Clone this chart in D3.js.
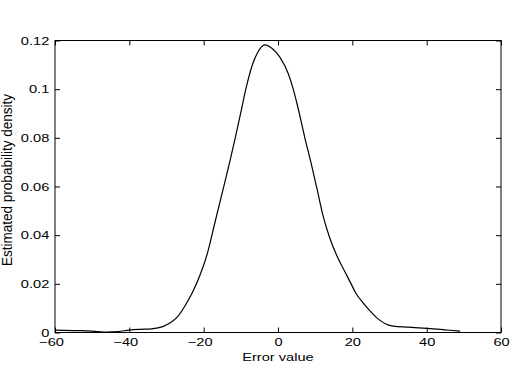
<!DOCTYPE html>
<html>
<head>
<meta charset="utf-8">
<script src="https://cdn.jsdelivr.net/npm/d3@7"></script>
<style>
  body { margin: 0; background: #fff; }
  text { font-family: "Liberation Sans", Arial, sans-serif; }
</style>
</head>
<body>
<div id="chart"></div>
<script>
// estimated density
const errorValues = [-60, -55, -50, -46, -43, -40, -37, -34, -31, -29, -27, -25, -23, -21, -19, -17, -15, -13, -11.5,
    -10, -8.5, -7, -5.5, -3.5, -1.5, 0.5, 2.8, 4, 5.2, 7.3, 9, 10.5, 12.2, 14, 16, 18, 19.5, 21, 23, 25, 27, 29, 31, 35, 40, 45, 49];
const densityValues = [0.0010, 0.0008, 0.0006, 0.0002, 0.0004, 0.0010, 0.0013, 0.0015, 0.0024, 0.0040, 0.0065, 0.0110, 0.0165, 0.0235, 0.0325, 0.0450, 0.0575, 0.0700, 0.0800,
    0.0905, 0.1010, 0.1095, 0.1150, 0.1182, 0.1166, 0.1132, 0.1062, 0.1005, 0.0935, 0.0795, 0.0690, 0.0590, 0.0475, 0.0385, 0.0310, 0.0250, 0.0205, 0.0160, 0.0120, 0.0085, 0.0055, 0.0035, 0.0026, 0.0022, 0.0017, 0.0011, 0.0006];

const xTicks = [-60, -40, -20, 0, 20, 40, 60];
const yTicks = [0, 0.02, 0.04, 0.06, 0.08, 0.1, 0.12];

const width = 516, height = 372;
const plotLeft = 55, plotRight = 501, plotTop = 40.5, plotBottom = 332.5;
const stretch = 1.33;   // labels look horizontally stretched in the picture
const fontSize = 11;

const svg = d3.select('#chart').append('svg')
    .attr('width', width)
    .attr('height', height);

const x = d3.scaleLinear().domain([-60, 60]).range([plotLeft, plotRight]);
const y = d3.scaleLinear().domain([0, 0.12]).range([plotBottom, plotTop]);

const points = errorValues.map((v, i) => ({x: v, y: densityValues[i]}));

// box
svg.append('rect')
    .attr('x', plotLeft).attr('y', plotTop)
    .attr('width', plotRight - plotLeft).attr('height', plotBottom - plotTop)
    .attr('fill', 'none').attr('stroke', '#000').attr('stroke-width', 1);

// axes with inward ticks
const fmtX = d => (d < 0 ? '\u2212' : '') + Math.abs(d);
const fmtY = d => String(+d.toFixed(2));

const xBottom = svg.append('g').attr('transform', `translate(0,${plotBottom})`)
    .call(d3.axisBottom(x).tickValues(xTicks).tickSizeInner(-5).tickSizeOuter(0).tickFormat(fmtX));
const xTop = svg.append('g').attr('transform', `translate(0,${plotTop})`)
    .call(d3.axisTop(x).tickValues(xTicks).tickSizeInner(-5).tickSizeOuter(0).tickFormat(''));
const yLeft = svg.append('g').attr('transform', `translate(${plotLeft},0)`)
    .call(d3.axisLeft(y).tickValues(yTicks).tickSizeInner(-5).tickSizeOuter(0).tickFormat(fmtY));
const yRight = svg.append('g').attr('transform', `translate(${plotRight},0)`)
    .call(d3.axisRight(y).tickValues(yTicks).tickSizeInner(-5).tickSizeOuter(0).tickFormat(''));

[xBottom, xTop, yLeft, yRight].forEach(g => {
    g.select('.domain').remove();
    g.selectAll('line').attr('stroke', '#000');
    g.selectAll('text').attr('font-size', fontSize).attr('fill', '#000')
        .attr('font-family', '"Liberation Sans", Arial, sans-serif');
});

xBottom.selectAll('text')
    .attr('y', 13.5).attr('dy', null)
    .attr('x', d => d < 0 ? -3 : 0)
    .attr('transform', `scale(${stretch},1)`);

yLeft.selectAll('text')
    .attr('x', -4.3).attr('dy', '0.34em')
    .attr('transform', `scale(${stretch},1)`);

// curve
svg.append('path')
    .datum(points)
    .attr('fill', 'none')
    .attr('stroke', '#000')
    .attr('stroke-width', 1.2)
    .attr('d', d3.line().x(d => x(d.x)).y(d => y(d.y)).curve(d3.curveMonotoneX));

// axis titles
svg.append('text')
    .attr('transform', `translate(${(plotLeft + plotRight) / 2},360.5) scale(${stretch},1)`)
    .attr('text-anchor', 'middle')
    .attr('font-size', fontSize)
    .text('Error value');

svg.append('text')
    .attr('transform', `translate(12,180) rotate(-90) scale(1.23,1.3)`)
    .attr('text-anchor', 'middle')
    .attr('font-size', fontSize)
    .text('Estimated probability density');
</script>
</body>
</html>
